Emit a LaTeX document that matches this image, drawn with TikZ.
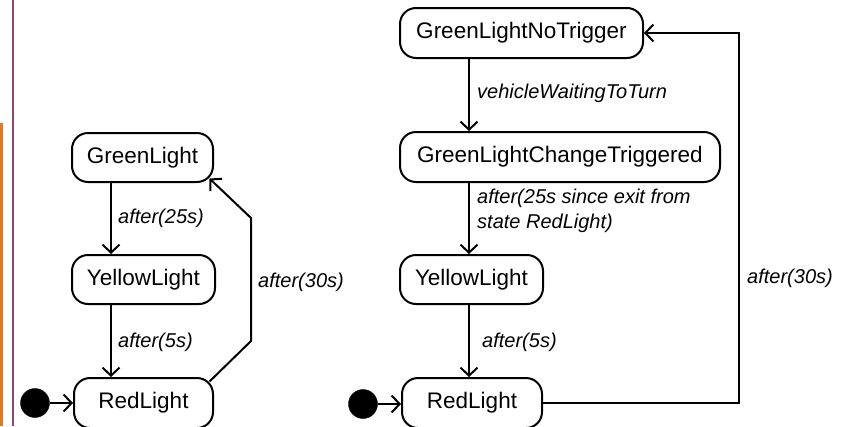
\documentclass[tikz,border=0pt]{standalone}
\usepackage{fontspec}
\setmainfont{Liberation Sans}
\usetikzlibrary{arrows.meta,calc}

\definecolor{framepurple}{HTML}{8C4A72}
\definecolor{frameorange}{HTML}{E07A2A}

\tikzset{
  state/.style={draw, line width=2pt, rounded corners=16pt, inner sep=0pt,
    minimum height=49pt, font=\fontsize{22.5}{27}\selectfont},
  initial/.style={circle, fill=black, draw=black, minimum size=29pt, inner sep=0pt},
  tr/.style={line width=2pt, -{Straight Barb[length=8pt,width=17pt,line width=2pt]}},
  lbl/.style={anchor=west, inner sep=0pt, align=left,
    font=\fontsize{20}{25}\selectfont\itshape},
}

\begin{document}
\begin{tikzpicture}[x=1pt, y=-1pt]
  \useasboundingbox (0,0) rectangle (853,426);
  \clip (0,0) rectangle (853,426);

  % frame rules on the left edge
  \fill[frameorange] (0,123) rectangle (2.5,426);
  \fill[framepurple] (11.5,0) rectangle (14,426);

  % ---- simple cycle ----
  \node[state, minimum width=141pt] (GL)  at (142.5,157.5) {GreenLight};
  \node[state, minimum width=143pt] (YL)  at (143.5,279.5) {YellowLight};
  \node[state, minimum width=139pt, minimum height=50pt] (RL) at (143.5,403) {RedLight};
  \node[initial] (i1) at (35,403) {};

  \coordinate (lx) at (111,0);
  \coordinate (lb1) at (251,341);
  \coordinate (lb2) at (251,218);

  \draw[tr] (GL.south -| lx) -- (YL.north -| lx);
  \draw[tr] (YL.south -| lx) -- (RL.north -| lx);
  \draw[tr] (i1) -- (RL.west |- i1);
  \draw[tr] ([shift={(-4.5,4.5)}]RL.north east) -- (lb1) -- (lb2)
            -- ([shift={(-4.5,-4.5)}]GL.south east);

  \node[lbl] (l1) at (118,218) {after(25s)};
  \node[lbl] (l2) at (118,342) {after(5s)};
  \node[lbl] (l3) at (258,282) {after(30s)};

  % ---- cycle with turn trigger ----
  \node[state, minimum width=243pt, minimum height=50pt] (GN) at (521.5,33) {GreenLightNoTrigger};
  \node[state, minimum width=320pt, minimum height=50pt] (GC) at (560,157) {GreenLightChangeTriggered};
  \node[state, minimum width=143pt] (YR) at (471.5,279.5) {YellowLight};
  \node[state, minimum width=140pt, minimum height=50pt] (RR) at (472,403) {RedLight};
  \node[initial] (i2) at (363,404) {};

  \coordinate (rx) at (469,0);
  \coordinate (rc) at (739,33);

  \draw[tr] (GN.south -| rx) -- (GC.north -| rx);
  \draw[tr] (GC.south -| rx) -- (YR.north -| rx);
  \draw[tr] (YR.south -| rx) -- (RR.north -| rx);
  \draw[tr] (i2) -- (RR.west |- i2);
  \draw[tr] (RR.east) -| (rc) -- (GN.east);

  \node[lbl] (r1) at (477,93) {vehicleWaitingToTurn};
  \node[lbl] (r2) at (477,211) {after(25s since exit from\\state RedLight)};
  \node[lbl] (r3) at (482,342) {after(5s)};
  \node[lbl] (r4) at (747,278) {after(30s)};
\end{tikzpicture}
\end{document}
